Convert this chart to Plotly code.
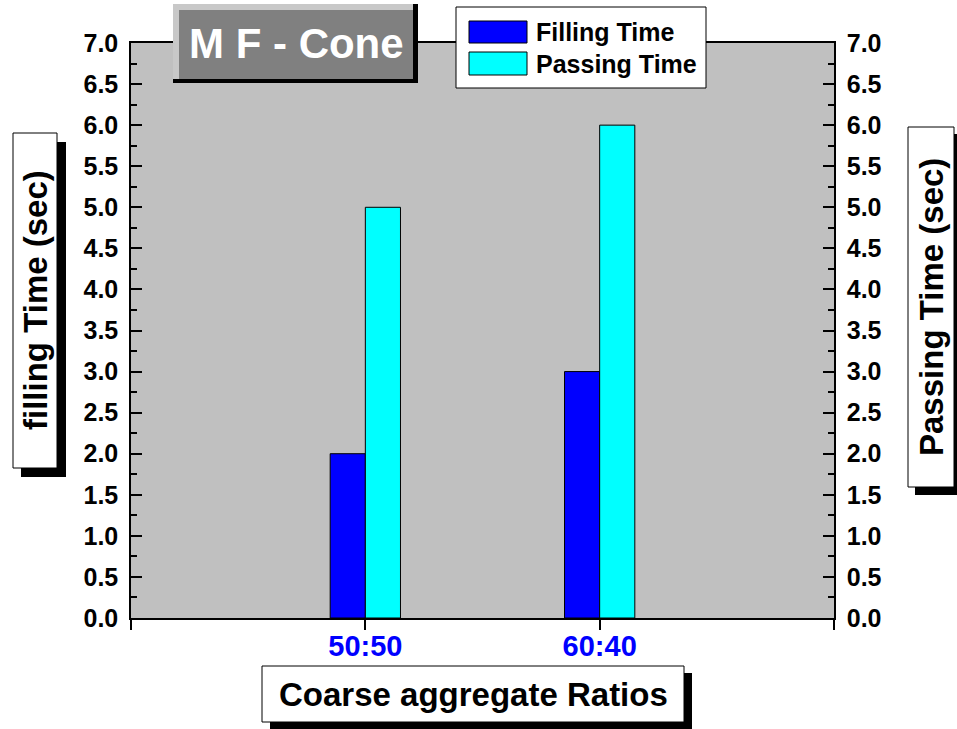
import plotly.graph_objects as go

categories = ["50:50", "60:40"]
filling_time = [2.0, 3.0]
passing_time = [5.0, 6.0]
y_ticks = [0.0, 0.5, 1.0, 1.5, 2.0, 2.5, 3.0, 3.5, 4.0, 4.5, 5.0, 5.5, 6.0, 6.5, 7.0]

W, H = 957, 729
L, R, T, B = 131, 834, 43, 618
FONT = "Liberation Sans"


def px(x):
    return (x - L) / (R - L)


def py(y):
    return (B - y) / (B - T)


def rect(x0, y0, x1, y1, fill, line_color=None, lw=0):
    return dict(type="rect", xref="paper", yref="paper",
                x0=px(x0), x1=px(x1), y0=py(y1), y1=py(y0),
                fillcolor=fill, line=dict(color=line_color or fill, width=lw),
                layer="above")


xpos = [i + 1 for i in range(len(categories))]

fig = go.Figure()
fig.add_trace(go.Bar(x=xpos, y=filling_time, name="Filling Time", width=0.15, offset=-0.15,
                     marker=dict(color="#0000ff", line=dict(color="black", width=1)),
                     yaxis="y", showlegend=False))
fig.add_trace(go.Bar(x=xpos, y=passing_time, name="Passing Time", width=0.15, offset=0.0,
                     marker=dict(color="#00ffff", line=dict(color="black", width=1)),
                     yaxis="y2", showlegend=False))

yax = dict(range=[0, 7], tickvals=y_ticks, ticktext=[f"{v:.1f}" for v in y_ticks],
           ticks="inside", ticklen=11, tickwidth=1.5, tickcolor="black",
           minor=dict(ticks="inside", ticklen=6, tickwidth=1.5, tickcolor="black", dtick=0.25, showgrid=False),
           showline=True, linecolor="black", linewidth=1.5, showgrid=False, zeroline=False,
           tickfont=dict(family=FONT, size=25, color="black", weight="bold"), ticklabelstandoff=6)

fig.update_layout(
    width=W, height=H,
    margin=dict(l=L, r=W - R, t=T, b=H - B, pad=0),
    paper_bgcolor="white", plot_bgcolor="#c0c0c0",
    barmode="overlay",
    xaxis=dict(range=[0, 3], tickvals=[0] + xpos + [3], ticktext=[""] + categories + [""],
               ticks="outside", ticklen=10, tickwidth=1.5, tickcolor="black",
               showline=True, linecolor="black", linewidth=1.5, mirror=True,
               showgrid=False, zeroline=False, ticklabelstandoff=-9,
               tickfont=dict(family=FONT, size=29, color="#0000ff", weight="bold")),
    yaxis=dict(side="left", **yax),
    yaxis2=dict(side="right", overlaying="y", **yax),
)

shapes = []
# title box (bevel)
shapes.append(rect(173, 4, 418, 83, "black"))
shapes.append(rect(173, 4, 413, 79, "#c8c8c8"))
shapes.append(rect(179, 10, 413, 79, "#808080"))
# legend
shapes.append(rect(456, 7, 706, 88, "white", "black", 1))
shapes.append(rect(469, 21, 527, 43, "#0000ff", "black", 1))
shapes.append(rect(469, 52, 527, 75, "#00ffff", "black", 1))
# left axis title box
shapes.append(rect(21, 142, 66, 477, "black"))
shapes.append(rect(13, 133, 57, 468, "white", "black", 1))
# right axis title box
shapes.append(rect(915, 134, 961, 495, "black"))
shapes.append(rect(908, 127, 954, 487, "white", "black", 1))
# x axis title box
shapes.append(rect(270, 673, 692, 730, "black"))
shapes.append(rect(262, 666, 684, 722, "white", "black", 1))
fig.update_layout(shapes=shapes)


def ann(text, x, y, size, color="black", angle=0, xanchor="center"):
    fig.add_annotation(text=text, xref="paper", yref="paper", x=px(x), y=py(y),
                       xanchor=xanchor, yanchor="middle", showarrow=False, textangle=angle,
                       font=dict(family=FONT, size=size, color=color, weight="bold"))


ann("M F - Cone", 296, 43, 42, color="white")
ann(fig.data[0].name, 534, 32, 25, xanchor="left")
ann(fig.data[1].name, 534, 64, 25, xanchor="left")
ann("filling Time (sec)", 35, 300, 33, angle=-90)
ann("Passing Time (sec)", 931, 307, 33, angle=-90)
ann("Coarse aggregate Ratios", 473, 694, 33)

fig.write_html("out.html", config={"displayModeBar": False},
               post_script="document.body.style.margin='0';document.body.style.overflow='hidden';")
